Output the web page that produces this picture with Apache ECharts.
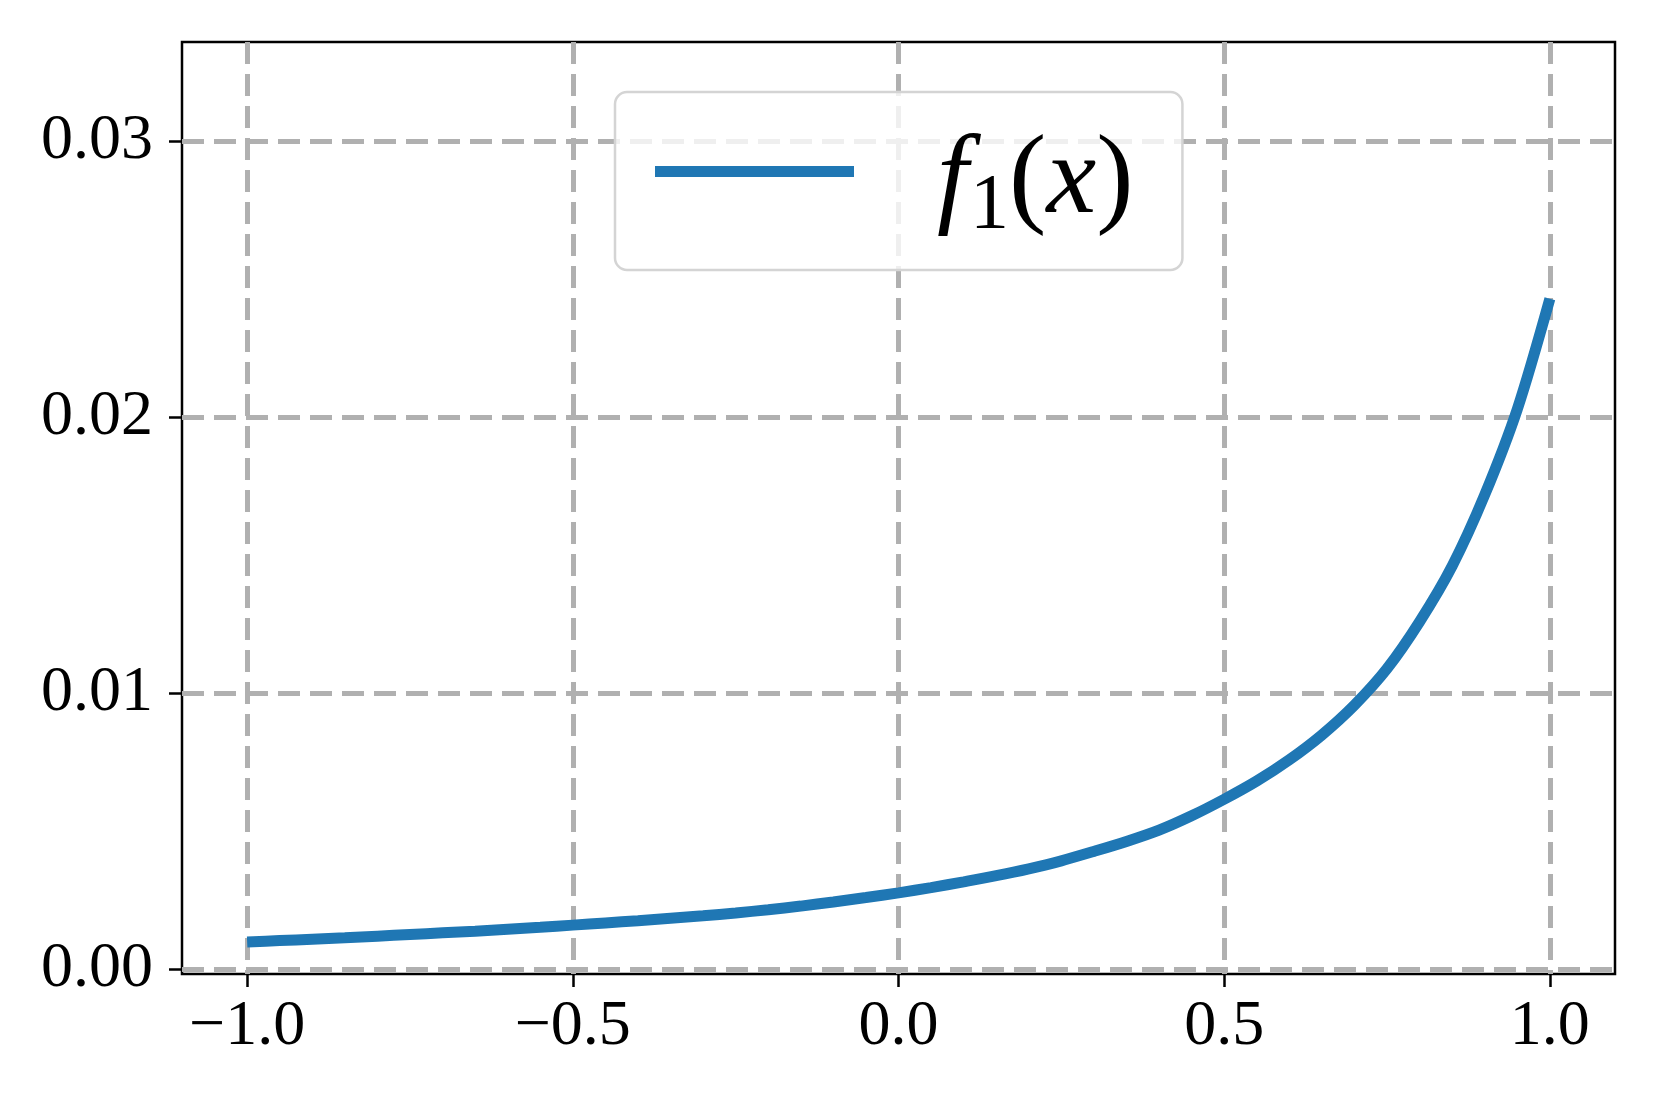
<!DOCTYPE html>
<html>
<head>
<meta charset="utf-8">
<title>f1(x)</title>
<script src="https://cdn.jsdelivr.net/npm/echarts@6/dist/echarts.min.js"></script>
<style>
  html, body { margin: 0; padding: 0; background: #fff; }
  #chart { width: 1657px; height: 1105px; }
</style>
</head>
<body>
<div id="chart"></div>
<script>
// values, every 0.05
var xValues = [-1.00, -0.95, -0.90, -0.85, -0.80, -0.75, -0.70, -0.65, -0.60, -0.55,
  -0.50, -0.45, -0.40, -0.35, -0.30, -0.25, -0.20, -0.15, -0.10, -0.05,
  0.00, 0.05, 0.10, 0.15, 0.20, 0.25, 0.30, 0.35, 0.40, 0.45,
  0.50, 0.55, 0.60, 0.65, 0.70, 0.75, 0.80, 0.85, 0.90, 0.95, 1.00];
var f1Values = [0.00100, 0.00105, 0.00110, 0.00115, 0.00121, 0.00127, 0.00133, 0.00139, 0.00146, 0.00153,
  0.00161, 0.00169, 0.00177, 0.00186, 0.00195, 0.00205, 0.00217, 0.00230, 0.00245, 0.00261,
  0.00278, 0.00297, 0.00318, 0.00340, 0.00365, 0.00394, 0.00428, 0.00464, 0.00505, 0.00557,
  0.00617, 0.00683, 0.00760, 0.00850, 0.00958, 0.01090, 0.01260, 0.01462, 0.01720, 0.02030, 0.02430];

var xTicks = [-1.0, -0.5, 0.0, 0.5, 1.0];
var xTickLabels = ["\u22121.0", "\u22120.5", "0.0", "0.5", "1.0"];
var yTicks = [0.00, 0.01, 0.02, 0.03];
var yTickLabels = ["0.00", "0.01", "0.02", "0.03"];

var seriesName = "f1(x)";
var serif = "Liberation Serif";

function labelFor(ticks, labels) {
  return function (v) {
    for (var i = 0; i < ticks.length; i++) {
      if (Math.abs(ticks[i] - v) < 1e-9) return labels[i];
    }
    return "";
  };
}

var points = xValues.map(function (x, i) { return [x, f1Values[i]]; });

var chart = echarts.init(document.getElementById("chart"));

var gridLine = { color: "#b0b0b0", width: 5, type: [22, 10] };
var tickLine = { color: "#000", width: 2.5 };

var option = {
  backgroundColor: "#fff",
  animation: false,
  grid: {
    left: 182,
    right: 42,
    top: 42,
    bottom: 131,
    show: true,
    borderColor: "#000",
    borderWidth: 2.5,
    backgroundColor: "transparent"
  },
  legend: {
    left: 615,
    top: 92,
    selectedMode: false,
    icon: "rect",
    itemWidth: 199,
    itemHeight: 11,
    padding: [5, 49, 24, 40],
    backgroundColor: "rgba(255,255,255,0.8)",
    borderColor: "#d4d4d4",
    borderWidth: 2.5,
    borderRadius: 12,
    data: [seriesName],
    formatter: function () {
      return "{pad| }{i|f}{s|1}{n|(}{i|x}{n|)}";
    },
    textStyle: {
      rich: {
        pad: { width: 78, fontSize: 10 },
        i: { fontFamily: serif, fontStyle: "italic", fontSize: 112, lineHeight: 130, padding: [22, 0, 0, 0], color: "#000" },
        n: { fontFamily: serif, fontSize: 112, lineHeight: 130, padding: [22, 0, 0, 0], color: "#000" },
        s: { fontFamily: serif, fontSize: 78, lineHeight: 78, padding: [71, 0, 0, 2], color: "#000" }
      }
    }
  },
  xAxis: {
    type: "value",
    min: -1.1,
    max: 1.1,
    axisLine: { show: false, onZero: false },
    axisTick: { show: true, length: 13, lineStyle: tickLine, customValues: xTicks },
    axisLabel: {
      customValues: xTicks,
      formatter: labelFor(xTicks, xTickLabels),
      fontFamily: serif,
      fontSize: 64,
      lineHeight: 64,
      color: "#000",
      margin: 21
    },
    splitLine: { show: true, lineStyle: gridLine }
  },
  yAxis: {
    type: "value",
    min: -0.00016,
    max: 0.0336,
    axisLine: { show: false, onZero: false },
    axisTick: { show: true, length: 13, lineStyle: tickLine, customValues: yTicks },
    axisLabel: {
      customValues: yTicks,
      formatter: labelFor(yTicks, yTickLabels),
      fontFamily: serif,
      fontSize: 64,
      color: "#000",
      margin: 29
    },
    splitLine: { show: true, lineStyle: gridLine }
  },
  series: [
    {
      name: seriesName,
      type: "line",
      data: points,
      showSymbol: false,
      smooth: 0.3,
      color: "#1f77b4",
      lineStyle: { color: "#1f77b4", width: 11 },
      z: 3
    }
  ]
};

chart.setOption(option);
</script>
</body>
</html>
